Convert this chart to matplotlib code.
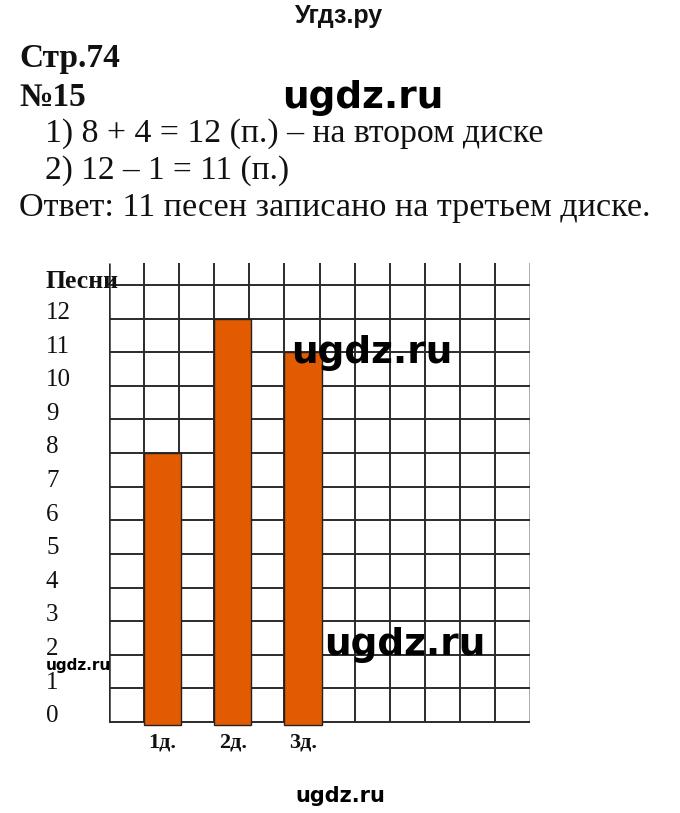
import matplotlib
matplotlib.use('Agg')
from matplotlib import pyplot as plt
from matplotlib import transforms

W, H = 680, 813

# data
disks = ['1д.', '2д.', '3д.']
songs = [8, 12, 11]
disk_cols = [1, 3, 5]          # grid column that each bar sits in
y_ticks = list(range(0, 13))
n_cols = 12
n_rows = 13

header = 'Угдз.ру'
page = 'Стр.74'
task = '№15'
step1 = '1) 8 + 4 = 12 (п.) – на втором диске'
step2 = '2) 12 – 1 = 11 (п.)'
answer = 'Ответ: 11 песен записано на третьем диске.'
wm = 'ugdz.ru'

serif = 'Liberation Serif'
sans = 'DejaVu Sans'


def fx(px):
    return px / W


def fy(py):
    return 1 - py / H


fig = plt.figure(figsize=(W / 100, H / 100), dpi=100)

### chart area: columns 109..530 px, rows 0 at 722 px, 13 at 285 px
unit = (722 - 285) / n_rows
y_lo = -0.3
y_hi = n_rows + (285 - 263) / unit
ax = fig.add_axes([fx(109), fy(722 + (-y_lo) * unit), fx(530) - fx(109),
                   (y_hi - y_lo) * unit / H])
ax.set_xlim(0, n_cols)
ax.set_ylim(y_lo, y_hi)
ax.axis('off')

# grid
for c in range(n_cols + 1):
    col = '#aaaaaa' if c == n_cols else '#2b2b2b'
    lw = 1.8 if c == 0 else 1.4
    ax.plot([c, c], [0, y_hi], color=col, lw=lw, zorder=1, solid_capstyle='butt')
for r in range(n_rows + 1):
    ax.plot([0, n_cols], [r, r], color='#2b2b2b', lw=1.4, zorder=1, solid_capstyle='butt')

# bars
xs = [c + 0.53 for c in disk_cols]
ax.bar(xs, [s + 0.08 for s in songs], bottom=-0.08, width=1.06,
       color='#E35B00', edgecolor='#222222', linewidth=1.0, zorder=2)

# y labels
tr = transforms.blended_transform_factory(fig.transFigure, ax.transData)
for v in y_ticks:
    ax.text(fx(46), v + 0.17, str(v), transform=tr, ha='left', va='center',
            fontsize=18, family=serif, color='#111111', zorder=3)
ax.text(fx(46), 13.1, 'Песни', transform=tr, ha='left', va='center',
        fontsize=18.5, family=serif, fontweight='bold', color='#111111', zorder=3)

# x labels
tr2 = transforms.blended_transform_factory(ax.transData, fig.transFigure)
for x, d in zip(xs, disks):
    ax.text(x, fy(742), d, transform=tr2, ha='center', va='center',
            fontsize=16, family=serif, fontweight='bold', color='#111111')

### text block
fig.text(fx(339), fy(16), header, ha='center', va='center', fontsize=18,
         family='Liberation Sans', fontweight='bold', color='#111111')
fig.text(fx(19), fy(58), page, ha='left', va='center', fontsize=24,
         family=serif, fontweight='bold', color='#111111')
fig.text(fx(19), fy(97), task, ha='left', va='center', fontsize=24,
         family=serif, fontweight='bold', color='#111111')
fig.text(fx(45), fy(134), step1, ha='left', va='center', fontsize=24.3,
         family=serif, color='#111111')
fig.text(fx(45), fy(171), step2, ha='left', va='center', fontsize=24,
         family=serif, color='#111111')
fig.text(fx(19), fy(208), answer, ha='left', va='center', fontsize=24.6,
         family=serif, color='#111111')

# watermarks
fig.text(fx(363), fy(98), wm, ha='center', va='center', fontsize=27,
         family=sans, fontweight='bold', color='black')
fig.text(fx(372), fy(353), wm, ha='center', va='center', fontsize=27,
         family=sans, fontweight='bold', color='black')
fig.text(fx(405), fy(645), wm, ha='center', va='center', fontsize=27,
         family=sans, fontweight='bold', color='black')
fig.text(fx(78), fy(665), wm, ha='center', va='center', fontsize=11,
         family=sans, fontweight='bold', color='black')
fig.text(fx(340), fy(796), wm, ha='center', va='center', fontsize=15,
         family=sans, fontweight='bold', color='black')

plt.savefig('out.png', dpi=100)
plt.close()
